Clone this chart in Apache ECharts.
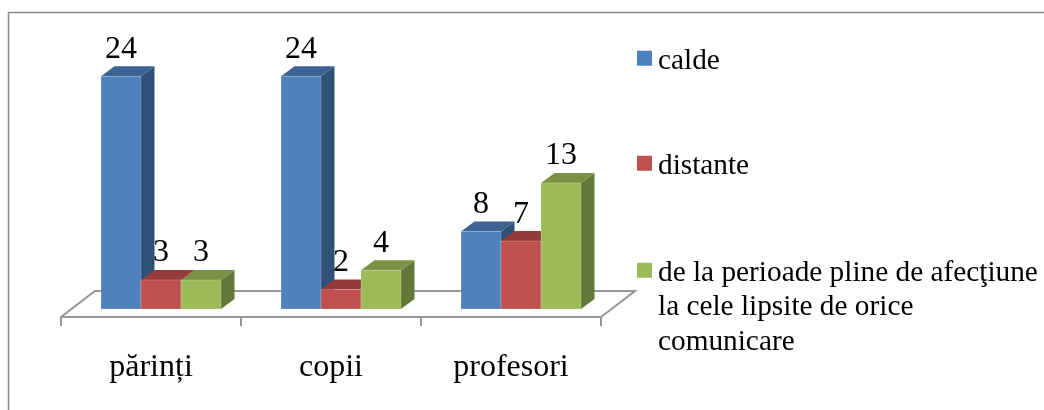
<!DOCTYPE html>
<html>
<head>
<meta charset="utf-8">
<style>
  html, body { margin: 0; background: #fff; }
  #chart { width: 1044px; height: 410px; }
</style>
</head>
<body>
<div id="chart"></div>
<script src="https://cdn.jsdelivr.net/npm/echarts@6/dist/echarts.min.js"></script>
<script>
const categories = ["părinți", "copii", "profesori"];
const calde = [24, 24, 8];
const distante = [3, 2, 7];
const perioade = [3, 4, 13];
const seriesNames = ["calde", "distante", "de la perioade pline de afecţiune la cele lipsite de orice comunicare"];

const faceColors = [
  { front: "#4f81bd", top: "#3c6291", side: "#2f5077" },
  { front: "#c0504d", top: "#953c3a", side: "#7d3230" },
  { front: "#9bbb59", top: "#799244", side: "#647939" },
];
const FONT = '"Liberation Serif", "Times New Roman", serif';
const DEPTH_X = 13.5, DEPTH_Y = 10;
const SHIFT_X = 10; // bars sit on the floor, a bit right of the axis band

function renderBar(params, api) {
  const i = params.seriesIndex - 1;
  const colors = faceColors[i];
  const base = api.coord([api.value(0), 0]);
  const top = api.coord([api.value(0), api.value(1)]);
  const w = api.size([1, 0])[0] * 2 / 9;
  const x0 = base[0] + SHIFT_X + (i - 1.5) * w;
  const x1 = x0 + w;
  const y0 = base[1], y1 = top[1];
  return {
    type: "group",
    children: [
      { type: "polygon", shape: { points: [[x1, y0], [x1 + DEPTH_X, y0 - DEPTH_Y], [x1 + DEPTH_X, y1 - DEPTH_Y], [x1, y1]] }, style: { fill: colors.side } },
      { type: "polygon", shape: { points: [[x0, y1], [x0 + DEPTH_X, y1 - DEPTH_Y], [x1 + DEPTH_X, y1 - DEPTH_Y], [x1, y1]] }, style: { fill: colors.top } },
      { type: "rect", shape: { x: x0, y: y1, width: w, height: y0 - y1 }, style: { fill: colors.front, stroke: "rgba(255,255,255,0.2)", lineWidth: 1 } },
      { type: "text", style: { x: (x0 + x1) / 2, y: y1 - DEPTH_Y - 1, text: String(api.value(1)), fill: "#000", font: "32px " + FONT, align: "center", verticalAlign: "bottom" } },
    ],
  };
}

// the floor of the 3d box, hung off the grid rectangle
function renderFloor(params) {
  const c = params.coordSys;
  const front = c.y + c.height + 8, back = c.y + c.height - 18;
  const left = c.x, right = c.x + c.width;
  return {
    type: "polyline",
    shape: { points: [[left, front], [left + 34, back], [right + 34, back], [right, front]] },
    style: { stroke: "#969696", lineWidth: 2, fill: "none" },
  };
}

const chart = echarts.init(document.getElementById("chart"));
const barSeries = [calde, distante, perioade].map((vals, i) => ({
  type: "custom",
  name: seriesNames[i],
  renderItem: renderBar,
  itemStyle: { color: faceColors[i].front },
  encode: { x: 0, y: 1 },
  data: categories.map((c, k) => [c, vals[k]]),
  z: 3,
}));

chart.setOption({
  animation: false,
  graphic: [{
    type: "polyline",
    shape: { points: [[8.5, 410], [8.5, 12.5], [1044, 12.5]] },
    style: { stroke: "#8c8c8c", lineWidth: 1.5, fill: "none" },
  }],
  legend: [
    { data: [seriesNames[0]], left: 637, top: 44 },
    { data: [seriesNames[1]], left: 637, top: 149 },
    {
      data: [seriesNames[2]], left: 637, top: 187,
      formatter: () => "\n\nde la perioade pline de afecţiune\nla cele lipsite de orice\ncomunicare",
    },
  ].map((l) => ({
    ...l,
    orient: "vertical",
    padding: 0,
    // the stray dot makes the icon box taller, so the text sits lower than the square
    icon: "path://M0 0H15V15H0Z M0 21H0.01V21.01H0Z",
    itemWidth: 15,
    itemHeight: 21,
    selectedMode: false,
    textStyle: { fontFamily: FONT, fontSize: 29.3, color: "#000", lineHeight: 34.5, padding: [0, 0, 0, 1] },
  })),
  grid: { left: 61, width: 540, top: 18, bottom: 101 },
  xAxis: {
    type: "category",
    data: categories,
    offset: 8,
    axisLine: { onZero: false, lineStyle: { color: "#969696", width: 2 } },
    axisTick: { show: true, length: 9, lineStyle: { color: "#969696", width: 2 } },
    axisLabel: { fontFamily: FONT, fontSize: 32, color: "#000", margin: 35, interval: 0 },
  },
  yAxis: { type: "value", min: 0, max: 30, show: false },
  series: [
    { type: "custom", renderItem: renderFloor, data: [[0, 0]], z: 1, silent: true },
    ...barSeries,
  ],
});
</script>
</body>
</html>
